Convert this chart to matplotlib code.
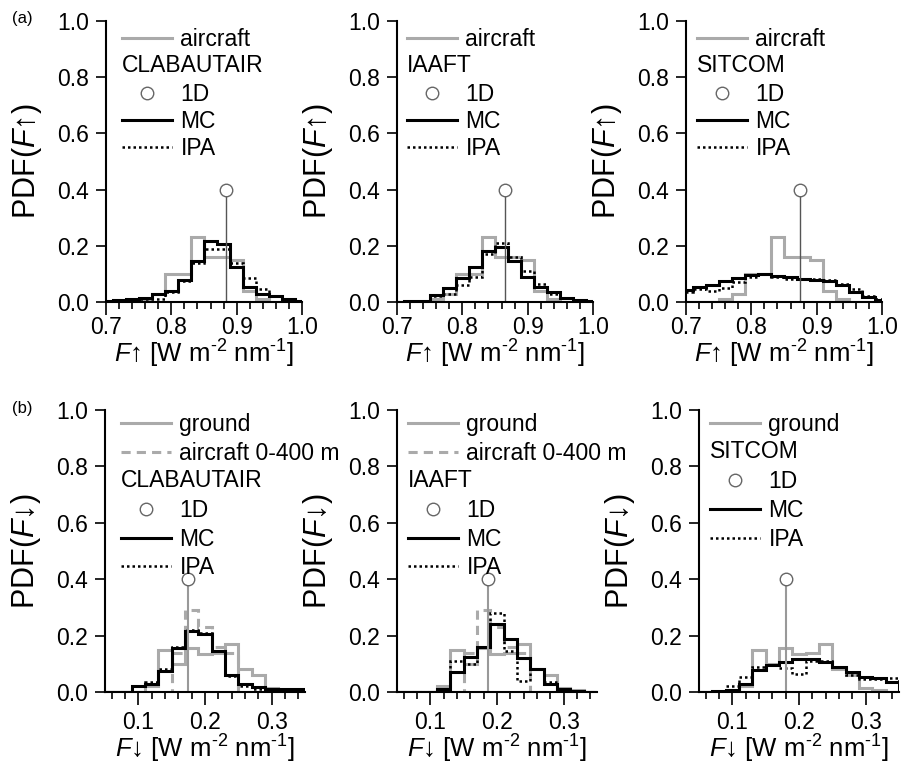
import numpy as np
import matplotlib
matplotlib.use('Agg')
import matplotlib.pyplot as plt
import matplotlib.text as mtext
from matplotlib.lines import Line2D
from matplotlib.legend_handler import HandlerBase
from matplotlib.ticker import MultipleLocator, FormatStrFormatter

plt.rcParams['font.family'] = ['Liberation Sans', 'DejaVu Sans']
plt.rcParams['mathtext.fontset'] = 'custom'
plt.rcParams['mathtext.rm'] = 'Liberation Sans'
plt.rcParams['mathtext.it'] = 'Liberation Sans:italic'

# ---- data (bin centres, PDF values) ----
up_centers = [0.70, 0.72, 0.74, 0.76, 0.78, 0.80, 0.82, 0.84,
              0.86, 0.88, 0.90, 0.92, 0.94, 0.96, 0.98, 1.00]
up_aircraft = [0, 0, 0, 0.01, 0.03, 0.10, 0.10, 0.23,
               0.16, 0.16, 0.15, 0.04, 0.01, 0, 0, 0]
up_mc = [
    [0.005, 0.008, 0.01, 0.015, 0.03, 0.04, 0.078, 0.146,
     0.216, 0.207, 0.123, 0.054, 0.028, 0.02, 0.012, 0.005],
    [0, 0.002, 0.005, 0.025, 0.05, 0.086, 0.125, 0.18,
     0.195, 0.145, 0.09, 0.055, 0.035, 0.015, 0.007, 0.002],
    [0.043, 0.052, 0.06, 0.075, 0.085, 0.095, 0.10, 0.092,
     0.088, 0.083, 0.08, 0.075, 0.06, 0.037, 0.017, 0.007],
]
up_ipa = [
    [0.005, 0.008, 0.01, 0.01, 0.012, 0.035, 0.075, 0.14,
     0.19, 0.19, 0.14, 0.085, 0.045, 0.02, 0.01, 0.005],
    [0, 0.002, 0.005, 0.02, 0.03, 0.06, 0.09, 0.17,
     0.21, 0.16, 0.11, 0.065, 0.03, 0.015, 0.005, 0.002],
    [0.035, 0.045, 0.04, 0.05, 0.07, 0.09, 0.10, 0.09,
     0.082, 0.082, 0.082, 0.08, 0.065, 0.045, 0.02, 0.01],
]
up_1d = [0.884, 0.865, 0.875]

dn_centers = [0.06, 0.08, 0.10, 0.12, 0.14, 0.16, 0.18, 0.20,
              0.22, 0.24, 0.26, 0.28, 0.30, 0.32, 0.34]
dn_ground = [0, 0, 0, 0.02, 0.15, 0.10, 0.155, 0.135,
             0.14, 0.17, 0.08, 0.06, 0.013, 0.007, 0]
dn_aircraft = [0, 0, 0, 0, 0, 0.14, 0.29, 0.23,
               0.16, 0.14, 0, 0, 0, 0, 0]
dn_mc = [
    [0, 0, 0.02, 0.03, 0.076, 0.155, 0.215, 0.205,
     0.147, 0.06, 0.03, 0.018, 0.012, 0.01, 0.01],
    [0, 0, 0, 0.01, 0.07, 0.125, 0.16, 0.24,
     0.187, 0.12, 0.08, 0.028, 0.01, 0.003, 0],
    [0, 0.002, 0.007, 0.03, 0.078, 0.096, 0.105, 0.117,
     0.116, 0.108, 0.088, 0.072, 0.054, 0.049, 0.037],
]
dn_ipa = [
    [0, 0, 0.02, 0.035, 0.08, 0.16, 0.22, 0.21,
     0.145, 0.055, 0.02, 0.012, 0.01, 0.008, 0.008],
    [0, 0, 0, 0.01, 0.11, 0.10, 0.16, 0.28,
     0.145, 0.04, 0.08, 0.035, 0.012, 0.005, 0],
    [0, 0.005, 0.02, 0.054, 0.09, 0.095, 0.084, 0.065,
     0.11, 0.11, 0.09, 0.06, 0.045, 0.045, 0.05],
]
dn_1d = [0.174, 0.186, 0.181]
one_d_value = 0.4
models = ['CLABAUTAIR', 'IAAFT', 'SITCOM']

GRAY = '#aaaaaa'
BIN = 0.02
LEG = dict(frameon=False, fontsize=16.5, handlelength=2.2, handletextpad=0.35,
           borderpad=0, borderaxespad=0, loc='upper left')
XUNIT = r' [W m$^{\text{-}2}$ nm$^{\text{-}1}$]'


class Heading:
    """legend row that is only a text, starting where the handles start"""
    def __init__(self, text):
        self.text = text


class HeadingHandler(HandlerBase):
    def legend_artist(self, legend, orig_handle, fontsize, handlebox):
        t = mtext.Text(-handlebox.xdescent, handlebox.height / 2 - handlebox.ydescent,
                       orig_handle.text, fontsize=fontsize, va='center', ha='left')
        handlebox.add_artist(t)
        return t


def edges_of(centers):
    c = np.asarray(centers)
    return np.append(c - BIN / 2, c[-1] + BIN / 2)


def style_axes(ax, xlim, xmajor, xpad):
    ax.set_xlim(*xlim)
    ax.set_ylim(0, 1.0)
    for s in ['top', 'right']:
        ax.spines[s].set_visible(False)
    for s in ['left', 'bottom']:
        ax.spines[s].set_linewidth(1.5)
    ax.set_yticks([0, 0.2, 0.4, 0.6, 0.8, 1.0])
    ax.yaxis.set_major_formatter(FormatStrFormatter('%.1f'))
    ax.set_xticks(xmajor)
    ax.xaxis.set_major_formatter(FormatStrFormatter('%.1f'))
    ax.xaxis.set_minor_locator(MultipleLocator(0.02))
    ax.tick_params(axis='both', which='major', direction='out', width=1.2,
                   labelsize=16.5)
    ax.tick_params(axis='y', which='major', length=7.5, pad=5)
    ax.tick_params(axis='x', which='major', length=9, pad=xpad)
    ax.tick_params(axis='x', which='minor', direction='out', length=5, width=1.2)


def leg_handles():
    return [Line2D([], [], ls='none', marker='o', ms=9, mfc='white', mec='#666666'),
            Line2D([], [], color='black', lw=2.2),
            Line2D([], [], color='black', lw=1.8, ls=(0, (1, 1.2)))]


fig = plt.figure(figsize=(9.01, 7.65), dpi=100)

top_left = [106, 397, 686]
top_leg_dx = [16, 10, 11]
bot_left = [105, 397, 699]
bot_leg_dx = [16, 11, 11]

for i in range(3):
    ax = fig.add_axes([top_left[i] / 901, 1 - 302 / 765, 196 / 901, 281 / 765])
    e = edges_of(up_centers)
    ax.stairs(up_aircraft, e, color=GRAY, lw=2.2)
    ax.stairs(up_ipa[i], e, color='black', lw=1.8, ls=(0, (1, 1.2)))
    ax.stairs(up_mc[i], e, color='black', lw=2.2)
    ax.vlines(up_1d[i], 0, one_d_value, color='#555555', lw=1.0)
    ax.plot(up_1d[i], one_d_value, 'o', ms=9, mfc='white', mec='#666666', mew=1.0)
    style_axes(ax, (0.7, 1.0), [0.7, 0.8, 0.9, 1.0], xpad=1)
    ax.set_ylabel('PDF($F$↑)', fontsize=22, labelpad=9)
    ax.set_xlabel('$F$↑' + XUNIT, fontsize=18.5, labelpad=-1)

    handles = [Line2D([], [], color=GRAY, lw=2.2), Heading(models[i])] + leg_handles()
    labels = ['aircraft', '', '1D', 'MC', 'IPA']
    ax.legend(handles, labels, bbox_to_anchor=(top_leg_dx[i] / 196, 0.975),
              labelspacing=0.19, handler_map={Heading: HeadingHandler()}, **LEG)

for i in range(3):
    ax = fig.add_axes([bot_left[i] / 901, 1 - 692 / 765, 200 / 901, 282 / 765])
    e = edges_of(dn_centers)
    ax.stairs(dn_ground, e, color=GRAY, lw=2.2)
    if i < 2:
        ax.stairs(dn_aircraft, e, color=GRAY, lw=2.2, ls=(0, (3, 2)))
    ax.stairs(dn_ipa[i], e, color='black', lw=1.8, ls=(0, (1, 1.2)))
    ax.stairs(dn_mc[i], e, color='black', lw=2.2)
    ax.vlines(dn_1d[i], 0, one_d_value, color='#999999', lw=1.5)
    ax.plot(dn_1d[i], one_d_value, 'o', ms=9, mfc='white', mec='#666666', mew=1.0)
    style_axes(ax, (0.05, 0.35), [0.1, 0.2, 0.3], xpad=5)
    ax.set_ylabel('PDF($F$↓)', fontsize=22, labelpad=9)
    ax.set_xlabel('$F$↓' + XUNIT, fontsize=18.5, labelpad=-1)

    handles = [Line2D([], [], color=GRAY, lw=2.2)]
    labels = ['ground']
    if i < 2:
        handles.append(Line2D([], [], color=GRAY, lw=2.2, ls=(0, (3, 2))))
        labels.append('aircraft 0-400 m')
    handles += [Heading(models[i])] + leg_handles()
    labels += ['', '1D', 'MC', 'IPA']
    ax.legend(handles, labels, bbox_to_anchor=(bot_leg_dx[i] / 200, 0.99),
              labelspacing=0.25, handler_map={Heading: HeadingHandler()}, **LEG)

fig.text(12 / 901, 1 - 18 / 765, '(a)', fontsize=12, va='center')
fig.text(12 / 901, 1 - 408 / 765, '(b)', fontsize=12, va='center')

fig.savefig('out.png', dpi=100)
